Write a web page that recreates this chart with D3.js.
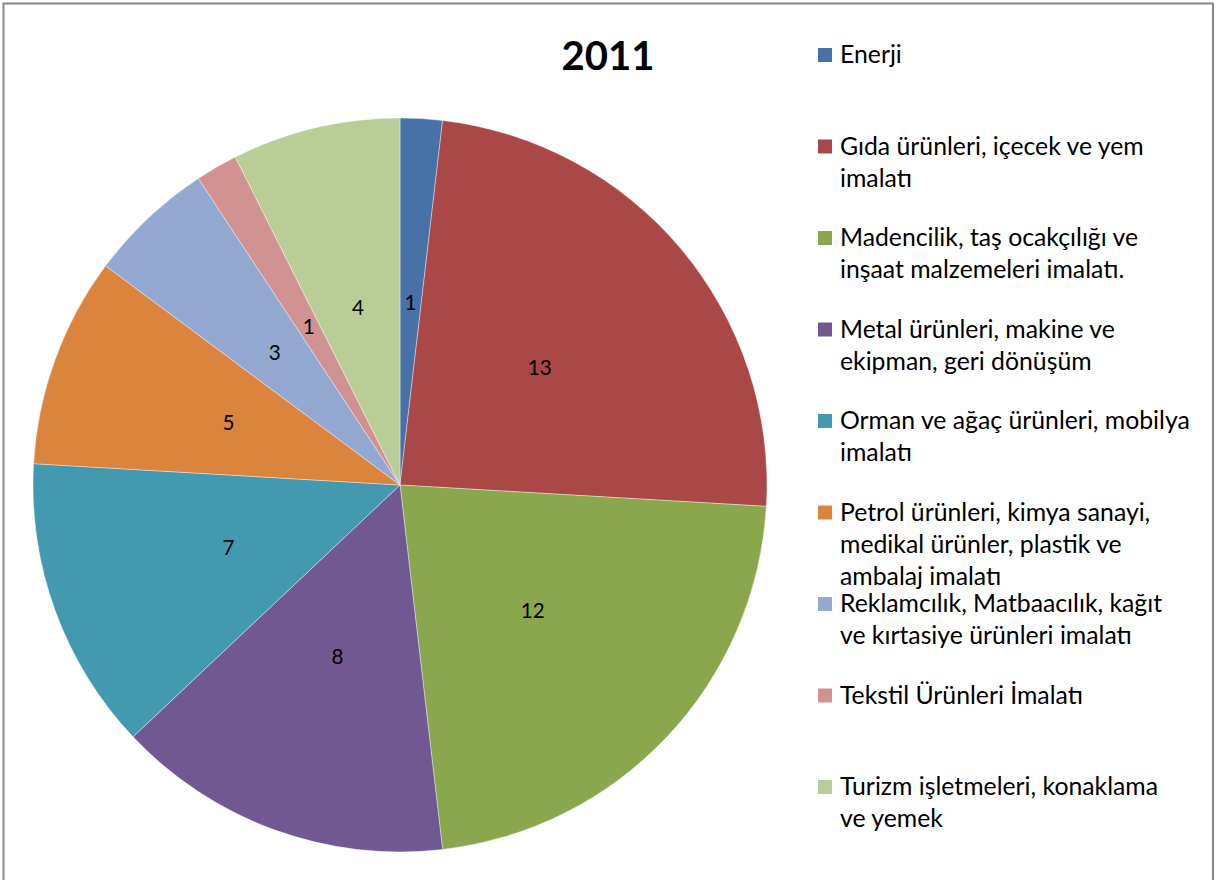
<!DOCTYPE html>
<html><head><meta charset="utf-8">
<script src="https://cdn.jsdelivr.net/npm/d3@7"></script>
<style>html,body{margin:0;padding:0;background:#fff;overflow:hidden}</style>
</head><body>
<svg id="chart" width="1223" height="880"></svg>
<script>
const title = "2011";
const categories = [
  "Enerji",
  "Gıda ürünleri, içecek ve yem imalatı",
  "Madencilik, taş ocakçılığı ve inşaat malzemeleri imalatı.",
  "Metal ürünleri, makine ve ekipman, geri dönüşüm",
  "Orman ve ağaç ürünleri, mobilya imalatı",
  "Petrol ürünleri, kimya sanayi, medikal ürünler, plastik ve ambalaj imalatı",
  "Reklamcılık, Matbaacılık, kağıt ve kırtasiye ürünleri imalatı",
  "Tekstil Ürünleri İmalatı",
  "Turizm işletmeleri, konaklama ve yemek"
];
const legendLines = [
  ["Enerji"],
  ["Gıda ürünleri, içecek ve yem", "imalatı"],
  ["Madencilik, taş ocakçılığı ve", "inşaat malzemeleri imalatı."],
  ["Metal ürünleri, makine ve", "ekipman, geri dönüşüm"],
  ["Orman ve ağaç ürünleri, mobilya", "imalatı"],
  ["Petrol ürünleri, kimya sanayi,", "medikal ürünler, plastik ve", "ambalaj imalatı"],
  ["Reklamcılık, Matbaacılık, kağıt", "ve kırtasiye ürünleri imalatı"],
  ["Tekstil Ürünleri İmalatı"],
  ["Turizm işletmeleri, konaklama", "ve yemek"]
];
const values = [1, 13, 12, 8, 7, 5, 3, 1, 4];
const colors = ["#4672A8", "#A94846", "#8AA74E", "#725892", "#4399B0", "#DB843D", "#94A9D1", "#D09392", "#B9CD97"];

const svg = d3.select("#chart");
const FONT = "Lato, 'Open Sans', sans-serif";

// frame
svg.append("rect").attr("x", 3.5).attr("y", 3.5).attr("width", 1209.5).attr("height", 900)
  .attr("fill", "#fff").attr("stroke", "#878787").attr("stroke-width", 2);

// helper to fit font size to a target width
function fitSize(text, weight, targetW, base) {
  const t = svg.append("text").attr("font-family", FONT).attr("font-weight", weight)
    .attr("font-size", base).text(text);
  const w = t.node().getComputedTextLength();
  t.remove();
  return base * targetW / w;
}

// title
const titleSize = fitSize(title, "bold", 93, 40);
svg.append("text").attr("x", 608).attr("y", 70).attr("text-anchor", "middle")
  .attr("font-family", FONT).attr("font-weight", "bold").attr("font-size", titleSize)
  .attr("fill", "#000").text(title);

// pie
const cx = 400, cy = 485, R = 367;
const pie = d3.pie().sort(null).value(d => d);
const arcs = pie(values);
const arc = d3.arc().innerRadius(0).outerRadius(R);
const labelArc = d3.arc().innerRadius(R * 0.497).outerRadius(R * 0.497);
const g = svg.append("g").attr("transform", `translate(${cx},${cy})`);
g.selectAll("path").data(arcs).join("path")
  .attr("d", arc).attr("fill", (d, i) => colors[i])
  .attr("stroke", "rgba(255,255,255,0.55)").attr("stroke-width", 0.7);

const labelSize = fitSize("13", "normal", 24, 24);
g.selectAll("text.lbl").data(arcs).join("text").attr("class", "lbl")
  .attr("transform", d => `translate(${labelArc.centroid(d)})`)
  .attr("text-anchor", "middle").attr("dy", "0.36em")
  .attr("font-family", FONT).attr("font-size", labelSize).attr("fill", "#000")
  .text(d => d.data);

// legend
const legSize = fitSize("Orman ve ağaç ürünleri, mobilya", "normal", 350, 22);
const leg = svg.append("g");
const y0 = 63, step = 91.5, lh = 32.3;
legendLines.forEach((lines, i) => {
  const by = y0 + i * step;
  leg.append("rect").attr("x", 818).attr("y", by - 15).attr("width", 14).attr("height", 14)
    .attr("fill", colors[i]);
  const t = leg.append("text").attr("font-family", FONT).attr("font-size", legSize).attr("fill", "#000");
  lines.forEach((ln, j) => {
    t.append("tspan").attr("x", 840).attr("y", by + j * lh).text(ln);
  });
});
</script>
</body></html>
